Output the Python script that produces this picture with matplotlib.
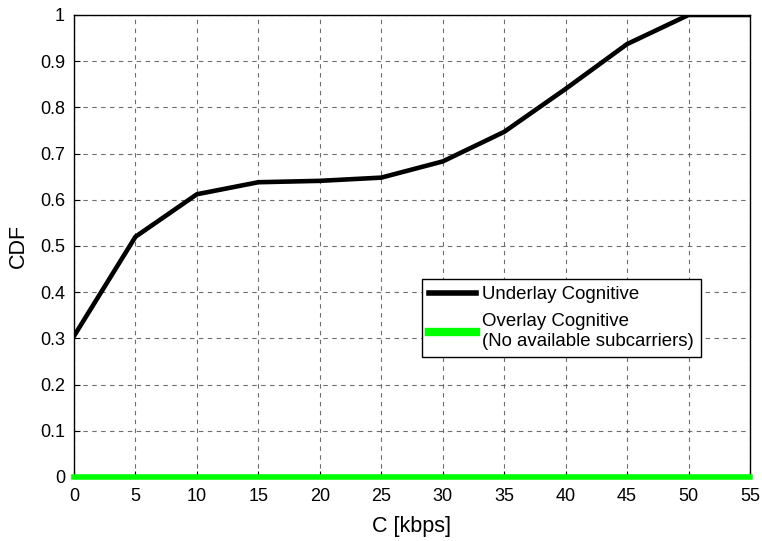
import matplotlib
matplotlib.use("Agg")
import matplotlib.pyplot as plt

plt.rcParams['font.family'] = ['Liberation Sans', 'DejaVu Sans']

# Capacity samples (kbps) and CDF values
capacity = [0, 5, 10, 15, 20, 25, 30, 35, 40, 45, 50, 55]
cdf_underlay = [0.305, 0.52, 0.612, 0.638, 0.641, 0.648, 0.683, 0.747, 0.840, 0.937, 1.0, 1.0]
cdf_overlay = [0, 0, 0, 0, 0, 0, 0, 0, 0, 0, 0, 0]

x_ticks = list(range(0, 56, 5))
y_ticks = [0, 0.1, 0.2, 0.3, 0.4, 0.5, 0.6, 0.7, 0.8, 0.9, 1]
y_tick_labels = ['0', '0.1', '0.2', '0.3', '0.4', '0.5', '0.6', '0.7', '0.8', '0.9', '1']

fig = plt.figure(figsize=(7.62, 5.41), dpi=100)
ax = fig.add_axes([0.0971, 0.1183, 0.8871, 0.854])

ax.plot(capacity, cdf_underlay, color='black', lw=3.3, label='Underlay Cognitive',
        solid_joinstyle='round', zorder=3)
ax.plot(capacity, cdf_overlay, color='#00ff00', lw=4.0,
        label='Overlay Cognitive\n(No available subcarriers)', zorder=3, clip_on=False)

ax.set_xlim(0, 55)
ax.set_ylim(0, 1)
ax.set_xticks(x_ticks)
ax.set_yticks(y_ticks)
ax.set_yticklabels(y_tick_labels)
ax.tick_params(direction='in', length=4, labelsize=13, width=0.8)
ax.tick_params(axis='x', pad=8)
ax.tick_params(axis='y', pad=6.5)
ax.grid(True, linestyle=(0, (4, 4)), color='#555555', linewidth=0.8, alpha=0.85)
for s in ax.spines.values():
    s.set_linewidth(1.0)

ax.set_xlabel('C [kbps]', fontsize=15.5, labelpad=7.5)
ax.set_ylabel('CDF', fontsize=15.5, labelpad=8)

leg = ax.legend(loc='upper left', bbox_to_anchor=(0.515, 0.4286), fontsize=13.4,
                frameon=True, fancybox=False, edgecolor='black', framealpha=1,
                borderpad=0.38, handlelength=2.5, handletextpad=0.35, labelspacing=0.55,
                borderaxespad=0)
leg.get_frame().set_linewidth(1.0)
leg.get_lines()[0].set_linewidth(4.0)
leg.get_lines()[1].set_linewidth(6.0)

fig.savefig('out.png', dpi=100)
